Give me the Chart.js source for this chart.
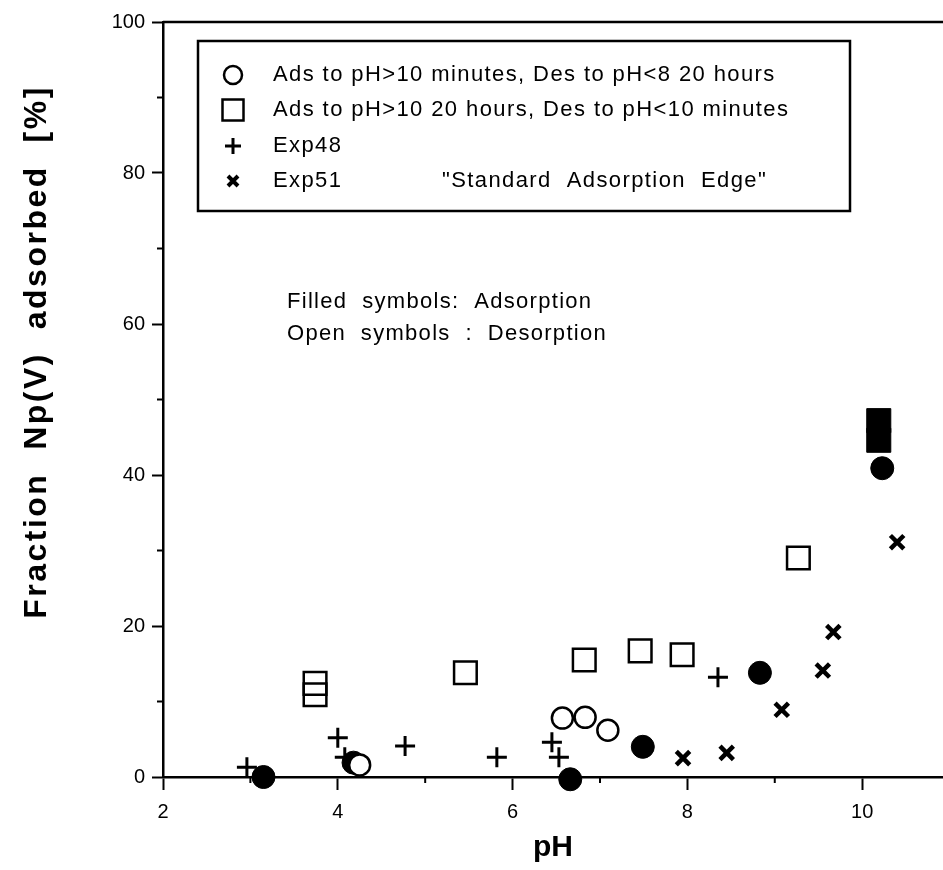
<!DOCTYPE html>
<html>
<head>
<meta charset="utf-8">
<script src="https://cdn.jsdelivr.net/npm/chart.js@4/dist/chart.umd.min.js"></script>
<style>
  html, body { margin: 0; padding: 0; background: #fff; }
  canvas { display: block; }
</style>
</head>
<body>
<canvas id="graph" width="943" height="870"></canvas>
<script>
// values (pH, % adsorbed)
const openCirclePH = [4.25, 6.57, 6.83, 7.09];
const openCircleVal = [1.6, 7.8, 7.9, 6.2];
const filledCirclePH = [3.15, 4.18, 6.66, 7.49, 8.83, 10.23];
const filledCircleVal = [0, 1.9, -0.3, 4.0, 13.8, 40.9];
const openSquarePH = [3.74, 3.74, 5.46, 6.82, 7.46, 7.94, 9.27];
const openSquareVal = [10.9, 12.4, 13.8, 15.5, 16.7, 16.2, 29.0];
const filledSquarePH = [10.19, 10.19];
const filledSquareVal = [44.6, 47.2];
const exp48PH = [2.96, 4.0, 4.08, 4.77, 5.82, 6.45, 6.53, 8.35];
const exp48Val = [1.3, 5.2, 2.6, 4.1, 2.6, 4.6, 2.6, 13.2];
const exp51PH = [7.95, 8.45, 9.08, 9.55, 9.67, 10.4];
const exp51Val = [2.5, 3.2, 8.9, 14.1, 19.2, 31.1];

const xMajor = [2, 4, 6, 8, 10];
const xMinor = [3, 5, 7, 9];
const yMajor = [0, 20, 40, 60, 80, 100];
const yMinor = [10, 30, 50, 70, 90];

const legendLabels = [
  'Ads to pH>10 minutes, Des to pH<8 20 hours',
  'Ads to pH>10 20 hours, Des to pH<10 minutes',
  'Exp48',
  'Exp51'
];
const edgeNote = '"Standard  Adsorption  Edge"';
const noteLines = ['Filled  symbols:  Adsorption', 'Open  symbols  :  Desorption'];
const xTitle = 'pH';
const yTitle = 'Fraction  Np(V)  adsorbed  [%]';

const FONT = '"Liberation Sans", Arial, Helvetica, sans-serif';

function pts(xs, ys) {
  return xs.map((x, i) => ({ x: x, y: ys[i] }));
}

// 軸まわりの飾り（副目盛・上枠・凡例・注記）
const decor = {
  id: 'decor',
  afterDraw(chart) {
    const ctx = chart.ctx;
    const a = chart.chartArea;
    const xs = chart.scales.x;
    const ys = chart.scales.y;
    ctx.save();
    ctx.strokeStyle = '#000';
    ctx.fillStyle = '#000';

    // top frame line
    ctx.lineWidth = 2.5;
    ctx.beginPath();
    ctx.moveTo(a.left, a.top);
    ctx.lineTo(a.right, a.top);
    ctx.stroke();

    // minor ticks
    ctx.lineWidth = 2;
    xMinor.forEach(v => {
      const px = xs.getPixelForValue(v);
      ctx.beginPath();
      ctx.moveTo(px, a.bottom);
      ctx.lineTo(px, a.bottom + 6);
      ctx.stroke();
    });
    yMinor.forEach(v => {
      const py = ys.getPixelForValue(v);
      ctx.beginPath();
      ctx.moveTo(a.left, py);
      ctx.lineTo(a.left - 6, py);
      ctx.stroke();
    });

    // legend box
    const bx = 198, by = 41, bw = 652, bh = 170;
    ctx.lineWidth = 2.5;
    ctx.strokeRect(bx, by, bw, bh);

    const mx = 233;
    const rows = [75, 110, 146, 181];
    ctx.lineWidth = 2.5;
    ctx.beginPath();
    ctx.arc(mx, rows[0], 9, 0, Math.PI * 2);
    ctx.stroke();
    ctx.strokeRect(mx - 10.5, rows[1] - 10.5, 21, 21);
    ctx.lineWidth = 3;
    ctx.beginPath();
    ctx.moveTo(mx - 8, rows[2]); ctx.lineTo(mx + 8, rows[2]);
    ctx.moveTo(mx, rows[2] - 8); ctx.lineTo(mx, rows[2] + 8);
    ctx.stroke();
    ctx.lineWidth = 4;
    ctx.beginPath();
    ctx.moveTo(mx - 5, rows[3] - 5); ctx.lineTo(mx + 5, rows[3] + 5);
    ctx.moveTo(mx - 5, rows[3] + 5); ctx.lineTo(mx + 5, rows[3] - 5);
    ctx.stroke();

    ctx.font = '22px ' + FONT;
    ctx.letterSpacing = '1.4px';
    ctx.textAlign = 'left';
    ctx.textBaseline = 'middle';
    legendLabels.forEach((t, i) => ctx.fillText(t, 273, rows[i]));
    ctx.fillText(edgeNote, 442, rows[3]);

    // note
    ctx.letterSpacing = '1.3px';
    ctx.fillText(noteLines[0], 287, 302);
    ctx.fillText(noteLines[1], 287, 334);

    // y title
    ctx.font = 'bold 32px ' + FONT;
    ctx.letterSpacing = '2.5px';
    ctx.textAlign = 'center';
    ctx.translate(37, 352);
    ctx.rotate(-Math.PI / 2);
    ctx.fillText(yTitle, 0, 0);
    ctx.restore();
  }
};

const graph = document.getElementById('graph');
const chart = new Chart(graph, {
  type: 'scatter',
  data: {
    datasets: [{
      label: 'filled circle',
      data: pts(filledCirclePH, filledCircleVal),
      order: 3,
      pointStyle: 'circle',
      pointRadius: 11.5,
      borderWidth: 1,
      borderColor: '#000',
      backgroundColor: '#000',
    }, {
      label: legendLabels[0],
      data: pts(openCirclePH, openCircleVal),
      order: 1,
      pointStyle: 'circle',
      pointRadius: 10.5,
      borderWidth: 2.5,
      borderColor: '#000',
      backgroundColor: '#fff',
    }, {
      label: legendLabels[1],
      data: pts(openSquarePH, openSquareVal),
      order: 1,
      pointStyle: 'rect',
      pointRadius: 16,
      borderWidth: 2.5,
      borderColor: '#000',
      backgroundColor: 'rgba(255,255,255,0)',
    }, {
      label: 'filled square',
      data: pts(filledSquarePH, filledSquareVal),
      order: 2,
      pointStyle: 'rect',
      pointRadius: 17,
      borderWidth: 1,
      borderColor: '#000',
      backgroundColor: '#000',
    }, {
      label: legendLabels[2],
      data: pts(exp48PH, exp48Val),
      order: 2,
      pointStyle: 'cross',
      pointRadius: 10,
      borderWidth: 3,
      borderColor: '#000',
    }, {
      label: legendLabels[3],
      data: pts(exp51PH, exp51Val),
      order: 2,
      pointStyle: 'crossRot',
      pointRadius: 9.5,
      borderWidth: 4.5,
      borderColor: '#000',
    }]
  },
  options: {
    responsive: false,
    animation: false,
    devicePixelRatio: 1,
    clip: false,
    layout: { autoPadding: false, padding: { top: 22, right: 0, left: 0, bottom: 0 } },
    plugins: {
      legend: { display: false },
      tooltip: { enabled: false }
    },
    scales: {
      x: {
        type: 'linear',
        min: 2,
        max: 10.925,
        afterFit: s => { s.height = 93; s.paddingLeft = 0; s.paddingRight = 0; },
        afterBuildTicks: s => { s.ticks = xMajor.map(v => ({ value: v })); },
        border: { color: '#000', width: 2.5 },
        grid: { drawOnChartArea: false, drawTicks: true, tickLength: 13, tickWidth: 2, tickColor: '#000' },
        ticks: { color: '#000', padding: 10, font: { family: FONT, size: 20 } },
        title: {
          display: true,
          text: xTitle,
          color: '#000',
          font: { family: FONT, size: 30, weight: 'bold' },
          padding: { top: 2 }
        }
      },
      y: {
        min: 0,
        max: 100,
        afterFit: s => { s.width = 163; s.paddingTop = 0; s.paddingBottom = 0; },
        afterBuildTicks: s => { s.ticks = yMajor.map(v => ({ value: v })); },
        border: { color: '#000', width: 2.5 },
        grid: { drawOnChartArea: false, drawTicks: true, tickLength: 11, tickWidth: 2, tickColor: '#000' },
        ticks: { color: '#000', padding: 7, font: { family: FONT, size: 20 } }
      }
    }
  },
  plugins: [decor]
});
</script>
</body>
</html>
